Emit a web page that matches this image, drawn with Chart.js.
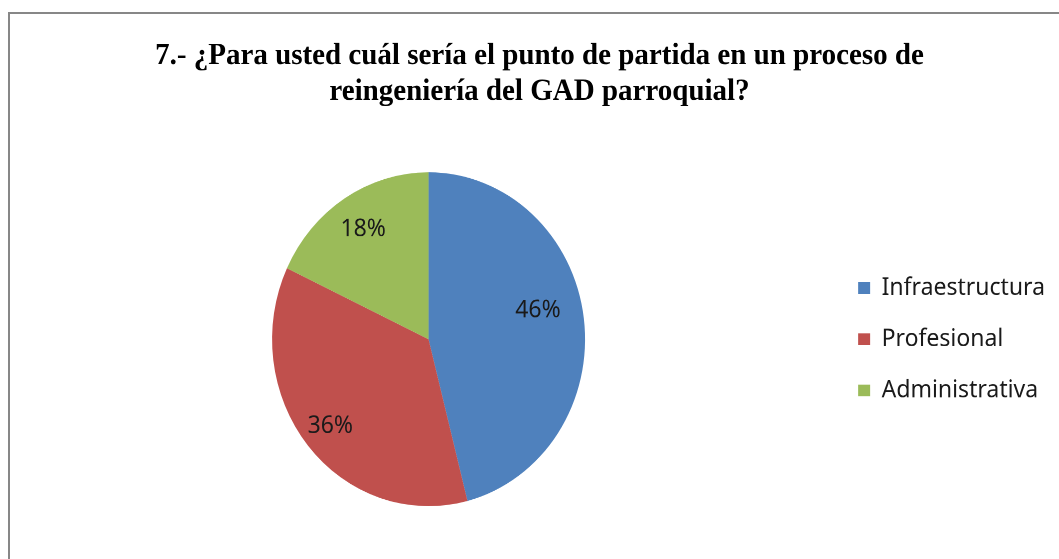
<!DOCTYPE html>
<html>
<head>
<meta charset="utf-8">
<script src="https://cdn.jsdelivr.net/npm/chart.js@4"></script>
<style>
  html, body { margin: 0; padding: 0; background: #fff; overflow: hidden; }
  #frame {
    position: absolute; left: 8px; top: 12px;
    width: 1100px; height: 600px;
    border: 2px solid #878787;
  }
  #wrap {
    position: absolute; left: 0; top: 0;
    width: 1059px; height: 524px;
    transform: scaleY(1.0668); transform-origin: 0 0;
  }
</style>
</head>
<body>
<div id="frame"></div>
<div id="wrap"><canvas id="pie" width="1059" height="524"></canvas></div>
<script>
// data
const categories = ['Infraestructura', 'Profesional', 'Administrativa'];
const percents = [46, 36, 18];
const colors = ['#4F81BD', '#C0504D', '#9BBB59'];
const titleLines = ['7.- ¿Para usted cuál sería el punto de partida en un proceso de', 'reingeniería del GAD parroquial?'];

// where each % label sits: fraction along the arc, fraction of radius (excel "best fit" look)
const labelAlong = [0.46, 0.5, 0.5];
const labelOut = [0.72, 0.815, 0.78];

const sliceLabels = {
    id: 'sliceLabels',
    afterDatasetsDraw(chart) {
        const c = chart.ctx;
        const meta = chart.getDatasetMeta(0);
        c.save();
        c.font = '23px "Noto Sans"';
        c.fillStyle = '#1a1a1a';
        c.textAlign = 'center';
        c.textBaseline = 'middle';
        meta.data.forEach((arc, i) => {
            const p = arc.getProps(['x', 'y', 'startAngle', 'endAngle', 'outerRadius'], true);
            const a = p.startAngle + (p.endAngle - p.startAngle) * labelAlong[i];
            const r = p.outerRadius * labelOut[i];
            c.fillText(percents[i] + '%', p.x + Math.cos(a) * r, p.y + Math.sin(a) * r);
        });
        c.restore();
    }
};

new Chart(document.getElementById('pie'), {
    type: 'pie',
    data: {
        labels: categories,
        datasets: [{
            data: percents,
            backgroundColor: colors,
            borderWidth: 0
        }]
    },
    options: {
        responsive: false,
        animation: false,
        devicePixelRatio: 2,
        radius: 156.5,
        layout: { padding: { left: 24, right: 4, top: 0, bottom: 8 } },
        plugins: {
            tooltip: { enabled: false },
            title: {
                display: true,
                text: titleLines,
                color: '#000',
                font: { family: '"Liberation Serif"', size: 29, weight: 'bold', lineHeight: 1.155 },
                padding: { top: 36, bottom: 17 }
            },
            legend: {
                position: 'right',
                fullSize: false,
                labels: {
                    boxWidth: 12,
                    boxHeight: 11,
                    padding: 25,
                    color: '#1a1a1a',
                    font: { family: '"Noto Sans"', size: 23 }
                }
            }
        }
    },
    plugins: [sliceLabels]
});
</script>
</body>
</html>
